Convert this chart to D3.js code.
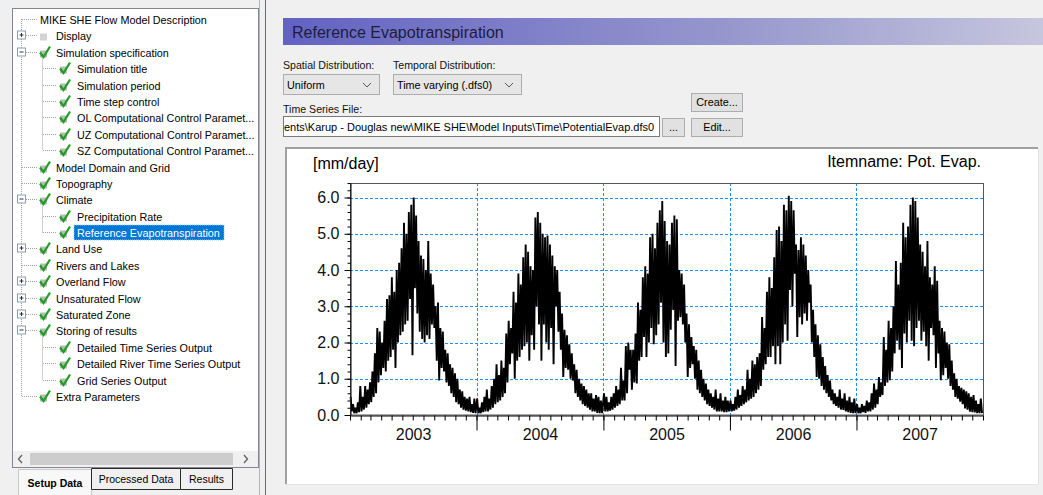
<!DOCTYPE html>
<html>
<head>
<meta charset="utf-8">
<script src="https://cdn.jsdelivr.net/npm/d3@7"></script>
<style>
body { margin: 0; background: #f0f0f0; overflow: hidden; }
svg { display: block; }
text { font-family: "Liberation Sans", Arial, sans-serif; }
</style>
</head>
<body>
<svg id="win" width="1043" height="495"></svg>
<script>
// Pot. Evap. [mm/day]. The daily line is so dense it draws as a band,
// so each year is kept as half-week samples alternating peak, trough (52 weeks).
const years = [2003, 2004, 2005, 2006, 2007];
const et2003 = [0.5,0.1, 0.3,0.05, 0.2,0.05, 0.35,0.08, 0.8,0.1, 0.5,0.15, 0.8,0.2, 0.7,0.3, 0.9,0.35, 1.2,0.5,
	1.7,0.6, 2.4,0.9, 2.3,1.1, 2.0,1.3, 2.6,1.2, 3.2,1.5, 3.3,1.6, 3.8,1.8, 3.4,1.3, 4.0,2.0,
	4.2,2.2, 4.6,2.3, 5.3,2.5, 5.0,2.6, 5.6,3.2, 5.8,1.65, 6.0,3.5, 5.5,2.8, 4.8,2.3, 4.4,2.1,
	4.3,2.0, 4.0,2.2, 4.8,2.1, 3.9,2.5, 3.6,2.4, 3.0,1.5, 3.1,0.95, 2.4,1.3, 2.3,1.2, 1.8,0.9,
	1.7,0.8, 1.4,0.6, 1.3,0.5, 1.15,0.35, 1.0,0.3, 0.7,0.2, 0.65,0.15, 0.5,0.12, 0.45,0.1, 0.5,0.08,
	0.3,0.06, 0.45,0.05];
const et2004 = [0.45,0.05, 0.2,0.05, 0.35,0.08, 0.5,0.1, 0.7,0.1, 0.45,0.15, 0.8,0.2, 1.0,0.3, 1.4,0.35, 1.1,0.4,
	1.5,0.5, 1.3,0.6, 2.25,0.9, 2.6,1.4, 2.4,1.7, 3.4,1.0, 3.1,1.5, 3.9,1.6, 3.6,1.8, 4.35,1.9,
	4.7,2.0, 4.5,1.5, 4.1,2.2, 4.0,1.8, 5.45,3.0, 5.6,2.5, 5.3,1.5, 5.0,2.5, 4.9,2.0, 4.95,1.8,
	4.7,2.4, 4.4,1.4, 4.1,3.0, 4.0,2.3, 3.4,1.8, 2.8,1.05, 2.35,1.3, 2.2,1.25, 1.95,1.0, 1.7,0.95,
	1.4,0.6, 1.25,0.5, 1.0,0.4, 0.87,0.3, 0.8,0.25, 0.7,0.2, 0.6,0.15, 0.6,0.1, 0.45,0.1, 0.55,0.06,
	0.5,0.05, 0.4,0.05];
const et2005 = [0.6,0.1, 0.5,0.1, 0.35,0.12, 0.5,0.15, 0.6,0.2, 0.8,0.25, 0.7,0.3, 1.3,0.4, 0.95,0.4, 1.9,0.6,
	2.0,1.25, 1.8,0.7, 1.8,0.9, 2.25,0.87, 3.1,1.5, 2.9,1.6, 3.8,2.15, 4.1,1.6, 3.9,2.0, 4.9,2.4,
	5.0,1.95, 4.6,2.2, 5.3,2.5, 5.65,3.1, 5.9,2.0, 5.35,1.6, 4.8,1.7, 4.7,2.35, 5.3,2.9, 5.5,1.35,
	5.4,2.6, 4.0,2.7, 3.9,2.5, 3.6,2.0, 2.8,1.05, 2.5,1.3, 2.15,1.4, 1.9,1.0, 1.8,0.7, 1.5,0.6,
	1.25,0.5, 1.0,0.4, 0.87,0.3, 0.7,0.25, 0.6,0.2, 0.5,0.15, 0.7,0.1, 0.45,0.1, 0.6,0.1, 0.4,0.08,
	0.5,0.08, 0.4,0.1];
const et2006 = [0.4,0.1, 0.3,0.12, 0.5,0.15, 0.7,0.2, 0.55,0.25, 0.8,0.3, 0.7,0.35, 1.25,0.4, 1.0,0.45, 1.5,0.5,
	1.4,0.6, 1.6,0.7, 1.7,0.8, 2.7,1.25, 2.4,1.4, 3.4,1.6, 3.8,1.6, 3.5,1.9, 4.35,1.4, 5.1,1.9,
	5.2,1.4, 4.8,2.0, 5.8,2.5, 5.65,2.05, 6.05,3.45, 5.9,3.0, 5.65,3.9, 4.7,2.15, 4.55,2.7, 4.9,2.5,
	4.7,2.8, 4.4,2.6, 4.0,3.1, 3.6,2.0, 2.9,1.6, 2.5,1.05, 2.2,1.0, 1.95,0.8, 1.6,0.7, 1.35,0.6,
	1.1,0.5, 0.95,0.4, 0.7,0.3, 0.6,0.25, 0.5,0.2, 0.7,0.15, 0.45,0.14, 0.6,0.1, 0.4,0.08, 0.5,0.06,
	0.35,0.05, 0.45,0.05];
const et2007 = [0.3,0.05, 0.2,0.05, 0.3,0.08, 0.25,0.06, 0.4,0.1, 0.35,0.1, 0.6,0.15, 0.87,0.2, 0.7,0.3, 1.05,0.5,
	0.9,0.55, 2.15,0.8, 1.8,0.9, 2.6,0.96, 2.4,1.2, 3.0,1.7, 4.25,2.05, 3.6,1.8, 4.2,1.3, 5.3,2.25,
	4.9,2.0, 5.2,2.6, 5.8,2.05, 6.0,1.9, 5.9,2.4, 5.45,2.6, 4.7,2.05, 4.5,2.3, 4.1,1.9, 4.8,1.5,
	3.8,2.4, 3.6,2.2, 4.1,1.3, 3.7,1.7, 2.6,0.96, 2.4,1.1, 2.3,1.3, 2.0,1.0, 1.95,0.8, 1.5,0.7,
	1.15,0.5, 1.0,0.45, 0.8,0.37, 0.75,0.3, 0.7,0.18, 0.65,0.15, 0.6,0.09, 0.5,0.08, 0.55,0.07, 0.4,0.05,
	0.3,0.05, 0.45,0.05];
const seriesByYear = [et2003, et2004, et2005, et2006, et2007];
const yTicks = [0, 1, 2, 3, 4, 5, 6];

// tree: label, level, expander, check state
const treeItems = [
	["MIKE SHE Flow Model Description", 0, "", "root"],
	["Display", 0, "+", "off"],
	["Simulation specification", 0, "-", "on"],
	["Simulation title", 1, "", "on"],
	["Simulation period", 1, "", "on"],
	["Time step control", 1, "", "on"],
	["OL Computational Control Paramet...", 1, "", "on"],
	["UZ Computational Control Paramet...", 1, "", "on"],
	["SZ Computational Control Paramet...", 1, "", "on"],
	["Model Domain and Grid", 0, "", "on"],
	["Topography", 0, "", "on"],
	["Climate", 0, "-", "on"],
	["Precipitation Rate", 1, "", "on"],
	["Reference Evapotranspiration", 1, "", "on"],
	["Land Use", 0, "+", "on"],
	["Rivers and Lakes", 0, "", "on"],
	["Overland Flow", 0, "+", "on"],
	["Unsaturated Flow", 0, "+", "on"],
	["Saturated Zone", 0, "+", "on"],
	["Storing of results", 0, "-", "on"],
	["Detailed Time Series Output", 1, "", "on"],
	["Detailed River Time Series Output", 1, "", "on"],
	["Grid Series Output", 1, "", "on"],
	["Extra Parameters", 0, "", "on"]
];
const selectedItem = "Reference Evapotranspiration";
const tabs = ["Setup Data", "Processed Data", "Results"];

const svg = d3.select("#win");
const defs = svg.append("defs");

// ---------- left tree panel ----------
const tree = svg.append("g");
tree.append("rect").attr("x", 12.5).attr("y", 8.5).attr("width", 246).attr("height", 459)
	.attr("fill", "white").attr("stroke", "#828790");
tree.append("line").attr("x1", 259.5).attr("x2", 259.5).attr("y1", 0).attr("y2", 495).attr("stroke", "#b4b4b4");
tree.append("line").attr("x1", 265.5).attr("x2", 265.5).attr("y1", 0).attr("y2", 495).attr("stroke", "#6d6d6d");

defs.append("clipPath").attr("id", "treeClip").append("rect")
	.attr("x", 13).attr("y", 9).attr("width", 244).attr("height", 442);

const rowY = i => 19 + i * 16.39;
const tg = tree.append("g").attr("clip-path", "url(#treeClip)");
const dotColor = "#a0a0a0";

const lastTop = d3.max(treeItems, (d, i) => d[1] === 0 ? i : 0);
tg.append("line").attr("x1", 21.5).attr("x2", 21.5).attr("y1", rowY(0)).attr("y2", rowY(lastTop))
	.attr("stroke", dotColor).attr("stroke-dasharray", "1,1");

treeItems.forEach((d, i) => {
	const cy = Math.round(rowY(i)) + 0.5;
	const [label, level, exp, state] = d;
	if (level === 0) {
		tg.append("line").attr("x1", 22).attr("x2", 37).attr("y1", cy).attr("y2", cy)
			.attr("stroke", dotColor).attr("stroke-dasharray", "1,1");
		if (exp) {
			tg.append("rect").attr("x", 17.5).attr("y", cy - 4.5).attr("width", 8).attr("height", 8)
				.attr("fill", "white").attr("stroke", "#8f9bb3");
			tg.append("line").attr("x1", 19.5).attr("x2", 23.5).attr("y1", cy - 0.5).attr("y2", cy - 0.5).attr("stroke", "#333");
			if (exp === "+") tg.append("line").attr("x1", 21.5).attr("x2", 21.5).attr("y1", cy - 2.5).attr("y2", cy + 1.5).attr("stroke", "#333");
		}
	} else {
		tg.append("line").attr("x1", 43).attr("x2", 56).attr("y1", cy).attr("y2", cy)
			.attr("stroke", dotColor).attr("stroke-dasharray", "1,1");
	}
	// children connector
	if (level === 0 && treeItems[i + 1] && treeItems[i + 1][1] === 1) {
		let j = i + 1;
		while (treeItems[j + 1] && treeItems[j + 1][1] === 1) j++;
		tg.append("line").attr("x1", 42.5).attr("x2", 42.5).attr("y1", cy + 6).attr("y2", Math.round(rowY(j)) + 0.5)
			.attr("stroke", dotColor).attr("stroke-dasharray", "1,1");
	}
	const bx = level === 0 ? 39 : 59;
	if (state !== "root") {
		tg.append("rect").attr("x", bx + 1).attr("y", cy - 2).attr("width", 7).attr("height", 7)
			.attr("fill", state === "on" ? "#b9b9b9" : "#d4d4d4");
		if (state === "on") {
			tg.append("path").attr("d", `M${bx + 1},${cy} L${bx + 4.5},${cy + 4.5} L${bx + 11},${cy - 6}`)
				.attr("fill", "none").attr("stroke", "#1e9e22").attr("stroke-width", 2.2);
		}
	}
	const tx = state === "root" ? 40 : (level === 0 ? 56 : 77);
	if (label === selectedItem) {
		tg.append("rect").attr("x", tx - 3).attr("y", cy - 7.5).attr("width", 150).attr("height", 15)
			.attr("fill", "#0078d7").attr("stroke", "#99c9ef").attr("stroke-dasharray", "1,1");
	}
	tg.append("text").attr("x", tx).attr("y", cy + 4).attr("font-size", "10.8px")
		.attr("fill", label === selectedItem ? "white" : "#000").text(label);
});

// horizontal scrollbar
tree.append("rect").attr("x", 13).attr("y", 451).attr("width", 245).attr("height", 16).attr("fill", "#f0f0f0");
tree.append("rect").attr("x", 30).attr("y", 453).attr("width", 203).attr("height", 12).attr("fill", "#cdcdcd");
tree.append("path").attr("d", "M22,455 L18.5,459 L22,463").attr("fill", "none").attr("stroke", "#606060").attr("stroke-width", 1.3);
tree.append("path").attr("d", "M244,455 L247.5,459 L244,463").attr("fill", "none").attr("stroke", "#606060").attr("stroke-width", 1.3);

// tabs
const tabX = [18, 91, 180, 232];
tabs.forEach((t, i) => {
	const sel = i === 0;
	const g = tree.append("g");
	const x0 = tabX[i] + 0.5, x1 = tabX[i + 1] + 0.5;
	const top = sel ? 469.5 : 468.5, bot = sel ? 495 : 489.5;
	g.append("path").attr("d", `M${x0},${bot} L${x0},${top} L${x1},${top} L${x1},${bot}` + (sel ? "" : ` L${x0},${bot}`))
		.attr("fill", sel ? "#f8f8f8" : "#f0f0f0").attr("stroke", sel ? "#c8c8c8" : "#2b2b2b");
	g.append("text").attr("x", (x0 + x1) / 2).attr("y", sel ? 487 : 483).attr("text-anchor", "middle")
		.attr("font-size", "10.5px").attr("font-weight", sel ? "bold" : "normal").text(t);
});

// ---------- right panel ----------
const grad = defs.append("linearGradient").attr("id", "hdr").attr("x1", 0).attr("x2", 1).attr("y1", 0).attr("y2", 0);
grad.append("stop").attr("offset", 0).attr("stop-color", "#6262c2");
grad.append("stop").attr("offset", 0.6).attr("stop-color", "#9898ce");
grad.append("stop").attr("offset", 1).attr("stop-color", "#c6c6de");
svg.append("rect").attr("x", 283).attr("y", 18).attr("width", 760).attr("height", 27).attr("fill", "url(#hdr)");
svg.append("text").attr("x", 292).attr("y", 38).attr("font-size", "16px").attr("fill", "#1d1d3c")
	.text("Reference Evapotranspiration");

const label = (x, y, t) => svg.append("text").attr("x", x).attr("y", y).attr("font-size", "10.6px").attr("fill", "#111").text(t);
label(283, 69, "Spatial Distribution:");
label(393, 69, "Temporal Distribution:");
label(283, 113, "Time Series File:");

function combo(x, w, t) {
	svg.append("rect").attr("x", x + 0.5).attr("y", 74.5).attr("width", w).attr("height", 20)
		.attr("fill", "#e6e6e6").attr("stroke", "#adadad");
	svg.append("text").attr("x", x + 4).attr("y", 89).attr("font-size", "10.8px").text(t);
	svg.append("path").attr("d", `M${x + w - 16},${83} L${x + w - 12},${87} L${x + w - 8},${83}`)
		.attr("fill", "none").attr("stroke", "#555");
}
combo(283, 96, "Uniform");
combo(393, 128, "Time varying (.dfs0)");

function button(x, y, w, h, t) {
	svg.append("rect").attr("x", x + 0.5).attr("y", y + 0.5).attr("width", w).attr("height", h)
		.attr("fill", "#e1e1e1").attr("stroke", "#adadad");
	svg.append("text").attr("x", x + w / 2 + 0.5).attr("y", y + h / 2 + 4).attr("text-anchor", "middle")
		.attr("font-size", "10.8px").text(t);
}
svg.append("rect").attr("x", 283.5).attr("y", 116.5).attr("width", 376).attr("height", 20)
	.attr("fill", "white").attr("stroke", "#7a7a7a");
svg.append("text").attr("x", 284).attr("y", 131).attr("font-size", "11px")
	.text("ents\\Karup - Douglas new\\MIKE SHE\\Model Inputs\\Time\\PotentialEvap.dfs0");
button(662, 118, 22, 18, "...");
button(691, 93, 51, 18, "Create...");
button(691, 118, 51, 18, "Edit...");

// chart panel
svg.append("rect").attr("x", 285).attr("y", 147).attr("width", 753).attr("height", 337).attr("fill", "white");
svg.append("path").attr("d", "M286,484 L286,148 L1038,148").attr("fill", "none").attr("stroke", "#a0a0a0").attr("stroke-width", 2);
svg.append("path").attr("d", "M1038.5,148 L1038.5,484.5 L285,484.5").attr("fill", "none").attr("stroke", "#e3e3e3");

const x = d3.scaleTime().domain([new Date(2003, 0, 1), new Date(2008, 0, 1)]).range([350, 983]);
const y = d3.scaleLinear().domain([0, 6.4]).range([415, 183]);

const chart = svg.append("g");
chart.append("g").selectAll("line").data(yTicks.slice(1)).join("line")
	.attr("x1", 350).attr("x2", 983).attr("y1", d => Math.round(y(d)) + 0.5).attr("y2", d => Math.round(y(d)) + 0.5)
	.attr("stroke", "#1e8fff").attr("stroke-dasharray", "3,2");
chart.append("g").selectAll("line").data(years.slice(1)).join("line")
	.attr("x1", d => Math.round(x(new Date(d, 0, 1))) + 0.5).attr("x2", d => Math.round(x(new Date(d, 0, 1))) + 0.5)
	.attr("y1", 183).attr("y2", 415)
	.attr("stroke", "#1e8fff").attr("stroke-dasharray", "3,2");

// series
const points = [];
years.forEach((yr, k) => {
	const start = +new Date(yr, 0, 1);
	seriesByYear[k].forEach((v, i) => {
		points.push([new Date(start + (i * 3.5 + 1.75) * 864e5), v]);
	});
});
chart.append("path").datum(points)
	.attr("d", d3.line().x(d => x(d[0])).y(d => y(d[1])))
	.attr("fill", "none").attr("stroke", "#000").attr("stroke-width", 1.9).attr("stroke-linejoin", "bevel");

// frame
chart.append("rect").attr("x", 350.5).attr("y", 183.5).attr("width", 633).attr("height", 231.5)
	.attr("fill", "none").attr("stroke", "#555");

// y axis
const yMinor = d3.range(0, 6.41, 0.2);
chart.append("g").attr("transform", "translate(350.5,0)")
	.call(d3.axisLeft(y).tickValues(yMinor).tickSize(3).tickSizeOuter(0).tickFormat(""))
	.call(g => g.select(".domain").remove());
chart.append("g").attr("transform", "translate(350.5,0)")
	.call(d3.axisLeft(y).tickValues(yTicks).tickSize(6).tickPadding(5).tickSizeOuter(0).tickFormat(d3.format(".1f")))
	.call(g => g.select(".domain").attr("stroke", "#000"))
	.call(g => g.selectAll("text").attr("font-size", "16px").attr("fill", "#111")
		.attr("font-family", "'Liberation Sans', Arial, sans-serif"));

// x axis
chart.append("g").attr("transform", "translate(0,415.5)")
	.call(d3.axisBottom(x).ticks(d3.timeMonth.every(1)).tickSize(5).tickSizeOuter(0).tickFormat(""))
	.call(g => g.select(".domain").attr("stroke", "#000"));
chart.append("g").attr("transform", "translate(0,415.5)")
	.call(d3.axisBottom(x).tickValues(years.slice(1).map(d => new Date(d, 0, 1))).tickSize(15).tickSizeOuter(0).tickFormat(""))
	.call(g => g.select(".domain").remove());
chart.append("g").attr("transform", "translate(0,415)")
	.call(d3.axisBottom(x).tickValues(years.map(d => new Date(d, 6, 2))).tickSize(0).tickPadding(14)
		.tickFormat(d3.timeFormat("%Y")))
	.call(g => g.select(".domain").remove())
	.call(g => g.selectAll("text").attr("font-size", "16px").attr("fill", "#111")
		.attr("font-family", "'Liberation Sans', Arial, sans-serif"));

chart.append("text").attr("x", 313).attr("y", 169).attr("font-size", "16px").text("[mm/day]");
chart.append("text").attr("x", 981).attr("y", 167).attr("text-anchor", "end").attr("font-size", "16px")
	.text("Itemname: Pot. Evap.");
</script>
</body>
</html>
